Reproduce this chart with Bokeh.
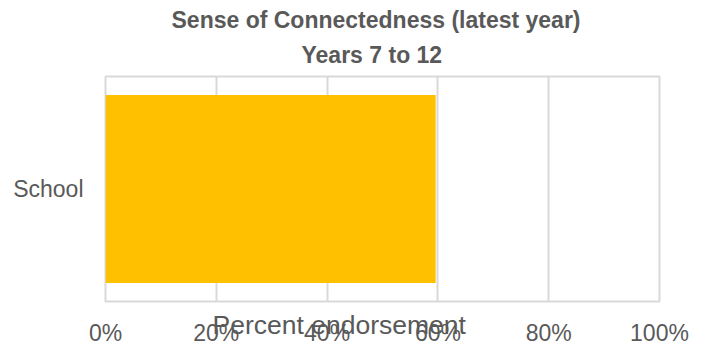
from bokeh.plotting import figure
from bokeh.models import Range1d, NumeralTickFormatter, FixedTicker, Title, LinearAxis
from bokeh.embed import file_html
from bokeh.resources import INLINE

# Share of students endorsing each connectedness domain
categories = ["School"]
endorsement = [0.596]
x_ticks = [0.0, 0.2, 0.4, 0.6, 0.8, 1.0]
title_lines = ["Sense of Connectedness (latest year)", "Years 7 to 12"]
x_title = "Percent endorsement"

FONT = "Liberation Sans"
GREY = "#595959"
GRID = "#d9d9d9"

p = figure(
    width=707, height=350,
    y_range=categories,
    x_range=Range1d(0, 1),
    output_backend="svg",
    toolbar_location=None,
    x_axis_location=None,
    min_border_left=105, min_border_right=48,
    min_border_top=76, min_border_bottom=49,
)

p.hbar(y=categories, right=endorsement, left=0, height=0.835,
       color="#FFC000", line_color=None)

# two title lines; the line added first sits nearest the frame
for text, offset, standoff in ((title_lines[1], 196, 18),
                               (title_lines[0], 66, -4)):
    p.add_layout(Title(text=text, align="left", offset=offset,
                       text_font=FONT, text_font_size="23px",
                       text_font_style="bold", text_color=GREY,
                       standoff=standoff), "above")

# frame and grid
p.outline_line_color = GRID
p.outline_line_width = 2
p.background_fill_color = "white"
p.border_fill_color = "white"
p.ygrid.grid_line_color = None
p.xgrid.grid_line_color = GRID
p.xgrid.grid_line_width = 2

# x axis title sits under the frame ...
p.add_layout(Title(text=x_title, align="left", offset=107,
                   vertical_align="top",
                   text_font=FONT, text_font_size="26.5px",
                   text_font_style="normal", text_color=GREY,
                   standoff=17), "below")

# ... and the percentage tick labels are pulled back up over it
xa = LinearAxis(ticker=FixedTicker(ticks=x_ticks),
                formatter=NumeralTickFormatter(format="0%"),
                axis_line_color=None, major_tick_line_color=None,
                minor_tick_line_color=None, major_tick_out=0, major_tick_in=0,
                major_label_text_font=FONT, major_label_text_font_size="23px",
                major_label_text_color=GREY, major_label_standoff=-31)
p.add_layout(xa, "below")
p.xgrid.ticker = FixedTicker(ticks=x_ticks)

# y axis
ya = p.yaxis[0]
ya.axis_line_color = None
ya.major_tick_line_color = None
ya.minor_tick_line_color = None
ya.major_tick_out = 0
ya.major_tick_in = 0
ya.major_label_text_font = FONT
ya.major_label_text_font_size = "23px"
ya.major_label_text_color = GREY
ya.major_label_standoff = 22

open("out.html", "w").write(file_html(p, INLINE))
